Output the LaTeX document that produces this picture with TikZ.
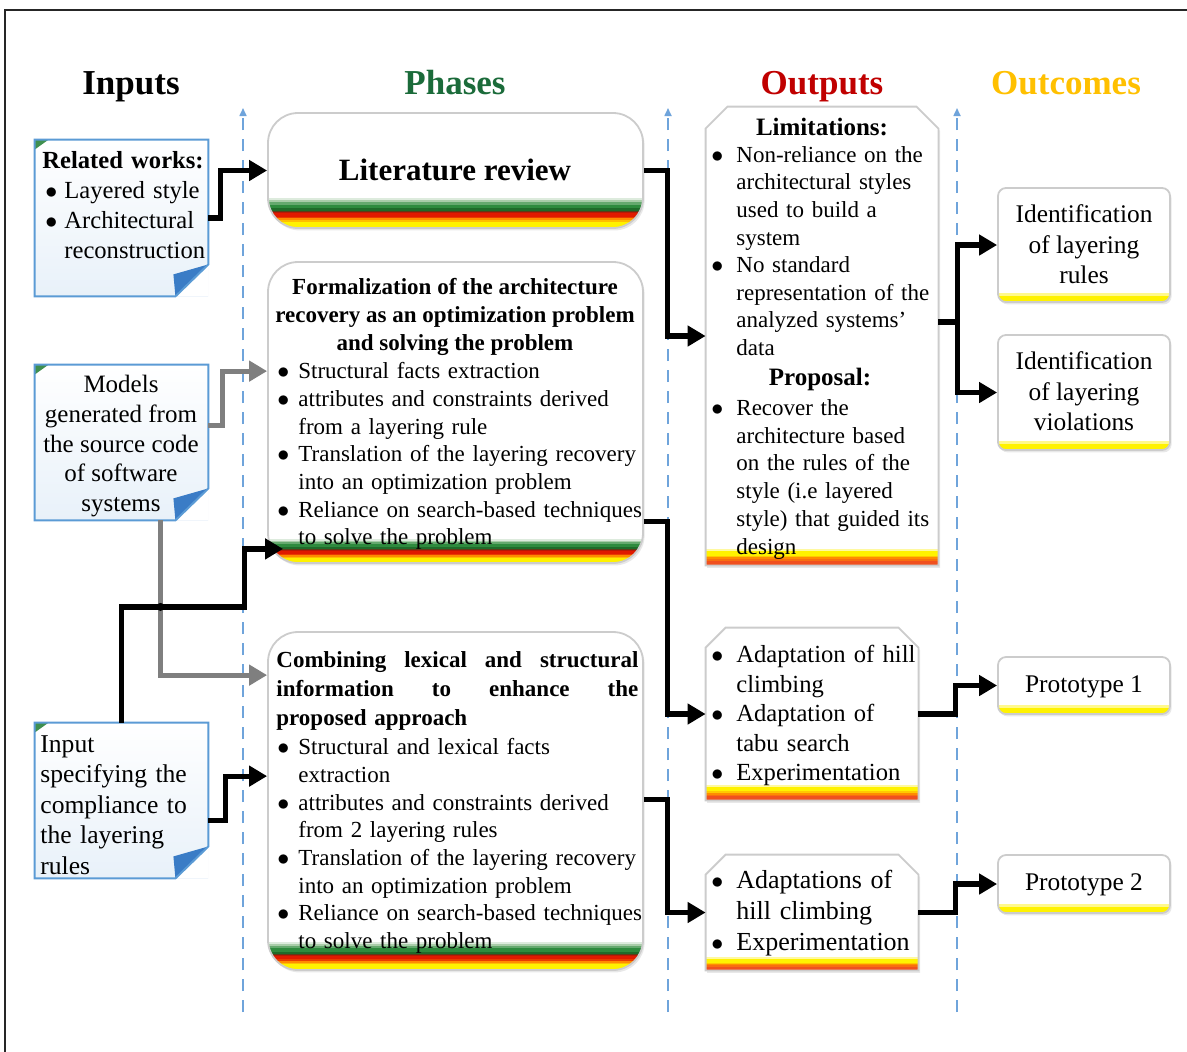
\documentclass[tikz,border=0pt]{standalone}
\usepackage{fontspec}
\setmainfont{Liberation Serif}
\usetikzlibrary{arrows.meta,calc,fit,shadows}
\setlength{\parindent}{0pt}

\definecolor{noteblue}{HTML}{5B9BD5}
\definecolor{foldblue}{HTML}{3A7CC6}
\definecolor{notegreen}{HTML}{3F8F4F}
\definecolor{dashblue}{HTML}{6FA4DB}
\definecolor{phgreen}{HTML}{1B6B3A}
\definecolor{outred}{HTML}{C00000}
\definecolor{outgold}{HTML}{FFC000}
\definecolor{connGray}{HTML}{7F7F7F}
\definecolor{bandgreen}{HTML}{2E8B3E}
\definecolor{banddgreen}{HTML}{1F6B2A}
\definecolor{bandlgreen}{HTML}{A9CDA9}
\definecolor{bandred}{HTML}{E01A00}
\definecolor{banddred}{HTML}{8B1A0A}
\definecolor{bandorange}{HTML}{FF8C00}
\definecolor{bandyellow}{HTML}{FFF200}
\definecolor{bandlyellow}{HTML}{FFF9A0}
\definecolor{bandorred}{HTML}{F0501E}

\newcommand{\bitem}[2][11pt]{\noindent\hangindent=#1\hangafter=1\makebox[#1][l]{\hspace{1.5pt}$\bullet$}#2\par}
\newcommand{\fsz}[2]{\fontsize{#1}{#2}\selectfont}

% strips of colour, fractions measured from the bottom edge
\newcommand{\drawband}[4]{%
  \foreach \a/\b/\c in {#4}{\fill[sharp corners,\c] ($(#1)+(0,-\a*#3)$) rectangle ($(#2)+(0,-\b*#3-0.4)$);}}

\newcommand{\notedeco}[1]{%
  \fill[white] ($(#1.south east)+(0,-32)$) -- (#1.south east) -- ($(#1.south east)+(-33,0)$) -- cycle;
  \fill[foldblue] ($(#1.south east)+(0,-32)$) -- ($(#1.south east)+(-33,0)$) -- ($(#1.south east)+(-35,-22)$) -- cycle;
  \fill[notegreen] (#1.north west) -- ($(#1.north west)+(14,0)$) -- ($(#1.north west)+(0,10)$) -- cycle;
  \draw[noteline] (#1.north west) -- (#1.north east) -- ($(#1.south east)+(0,-32)$) -- ($(#1.south east)+(-33,0)$) -- (#1.south west) -- cycle;}

\newcommand{\outbox}[3]{% node, chamfer, band height
  \fill[white, drop shadow={opacity=0.18, shadow xshift=0.8pt, shadow yshift=-1.2pt}] (#1.south west) -- ($(#1.north west)+(0,#2)$) -- ($(#1.north west)+(#2,0)$) -- ($(#1.north east)+(-#2,0)$) -- ($(#1.north east)+(0,#2)$) -- (#1.south east) -- cycle;
  \drawband{#1.south west}{#1.south east}{#3}{0/0.27/bandorred, 0.27/0.38/bandorred!50!bandorange, 0.38/0.5/bandorange, 0.5/0.6/bandorange!40!bandyellow, 0.6/0.87/bandyellow, 0.87/1/bandlyellow}
  \draw[outline] (#1.south west) -- ($(#1.north west)+(0,#2)$) -- ($(#1.north west)+(#2,0)$) -- ($(#1.north east)+(-#2,0)$) -- ($(#1.north east)+(0,#2)$) -- (#1.south east) -- cycle;}

\tikzset{
  hdr/.style={font=\fsz{17.5}{20}\bfseries, inner sep=0pt, anchor=base},
  notebox/.style={inner sep=0pt, top color=white, bottom color=noteblue!14},
  noteline/.style={draw=noteblue, line width=1pt, line join=miter},
  phasebox/.style={draw=gray!40, line width=0.9pt, fill=white, rounded corners=15pt, inner sep=0pt,
    drop shadow={opacity=0.18, shadow xshift=0.8pt, shadow yshift=-1.2pt}},
  phaseband/.style={path picture={\drawband{path picture bounding box.south west}{path picture bounding box.south east}{#1}{0/0.2/bandyellow, 0.2/0.26/bandyellow!50!bandorange, 0.26/0.33/bandorange, 0.33/0.38/bandorange!30!bandred, 0.38/0.5/bandred, 0.5/0.54/bandred!50!banddred, 0.54/0.58/banddred!60!banddgreen, 0.58/0.66/banddgreen, 0.66/0.78/bandgreen, 0.78/0.86/bandgreen!55!bandlgreen, 0.86/0.93/bandlgreen, 0.93/1/bandlgreen!40!white}}},
  plainbox/.style={inner sep=0pt},
  outline/.style={draw=gray!40, line width=0.9pt},
  ocbox/.style={draw=gray!40, line width=0.9pt, fill=white, rounded corners=4pt, inner sep=0pt,
    drop shadow={opacity=0.18, shadow xshift=0.8pt, shadow yshift=-1.2pt},
    path picture={\drawband{path picture bounding box.south west}{path picture bounding box.south east}{9}{0/0.7/bandyellow, 0.7/1/bandyellow!45!white}}},
  octxt/.style={inner sep=0pt, anchor=north, align=center, font=\fsz{12.7}{15.25}},
  txt/.style={inner sep=0pt, anchor=north west, text width=260pt, align=left},
  conn/.style={draw=black, line width=2.6pt, -{Triangle[length=9pt,width=10pt]}},
  gconn/.style={conn, draw=connGray},
  dashline/.style={draw=dashblue, line width=0.8pt, dash pattern=on 6pt off 4.5pt, -{Triangle[length=4pt,width=3.5pt]}},
}

\begin{document}
\begin{tikzpicture}[x=0.5pt, y=-0.5pt]
\useasboundingbox (0,0) rectangle (1187,1051);
\fill[white] (0,0) rectangle (1187,1051);
% frame
\draw[line width=1.3pt, black!85] (5,1070) -- (5,10) -- (1200,10);

% headers
\node[hdr] (hin) at (131,94) {Inputs};
\node[hdr, text=phgreen] (hph) at (455,94) {Phases};
\node[hdr, text=outred] (hout) at (822,94) {Outputs};
\node[hdr, text=outgold] (hoc) at (1066,94) {Outcomes};

% dashed separators
\draw[dashline] (243,1012) -- (243,108);
\draw[dashline] (668,1012) -- (668,108);
\draw[dashline] (957,1012) -- (957,108);

% input notes
\node[notebox, fit={(35,140) (208,296)}] (rel) {};
\notedeco{rel}
\node[notebox, fit={(35,365) (208,520)}] (mod) {};
\notedeco{mod}
\node[notebox, fit={(35,723) (208,878)}] (inp) {};
\notedeco{inp}

\node[txt, font=\fsz{12.3}{15}] (reltxt) at (42,151) {{\bfseries Related works:}\par\bitem[11pt]{Layered style}\bitem[11pt]{Architectural\newline reconstruction}};
\node[inner sep=0pt, anchor=north, align=center, font=\fsz{12.5}{14.85}] (modtxt) at (121,375) {Models\\generated from\\the source code\\of software\\systems};
\node[txt, font=\fsz{12.8}{15.25}] (inptxt) at (40,735) {Input\newline specifying the\newline compliance to\newline the layering\newline rules};

% phases
\node[phasebox, phaseband=30, fit={(268,113) (643,228)}] (lit) {};
\node[phasebox, phaseband=24, fit={(268,262) (643,563)}] (form) {};
\node[phasebox, phaseband=28, fit={(268,632) (643,970)}] (comb) {};

\node[inner sep=0pt, anchor=north, font=\fsz{15.5}{18}\bfseries] (littxt) at (455,159) {Literature review};
\node[inner sep=0pt, anchor=north, align=center, font=\fsz{11.5}{14}\bfseries] (formtitle) at (455,278) {Formalization of the architecture\\recovery as an optimization problem\\and solving the problem};
\node[txt, font=\fsz{11.5}{13.85}] (formlist) at (274,362) {\bitem[12pt]{Structural facts extraction}\bitem[12pt]{attributes and constraints derived\newline from a layering rule}\bitem[12pt]{Translation of the layering recovery\newline into an optimization problem}\bitem[12pt]{Reliance on search-based techniques\newline to solve the problem}};

\node[txt, font=\fsz{11.5}{14.5}\bfseries] (combtitle) at (276,651) {\makebox[181pt][l]{Combining\hfill lexical\hfill and\hfill structural}\newline\makebox[181pt][l]{information\hfill to\hfill enhance\hfill the}\newline proposed approach};
\node[txt, font=\fsz{11.5}{13.85}] (comblist) at (274,738) {\bitem[12pt]{Structural and lexical facts\newline extraction}\bitem[12pt]{attributes and constraints derived\newline from 2 layering rules}\bitem[12pt]{Translation of the layering recovery\newline into an optimization problem}\bitem[12pt]{Reliance on search-based techniques\newline to solve the problem}};

% outputs
\node[plainbox, fit={(706,107) (938,565)}] (lim) {};
\outbox{lim}{22}{16}
\node[plainbox, fit={(706,628) (918,800)}] (out2) {};
\outbox{out2}{20}{15}
\node[plainbox, fit={(706,855) (918,970)}] (out3) {};
\outbox{out3}{20}{13}

\node[inner sep=0pt, font=\fsz{12.5}{15}\bfseries] (limh) at (822,127) {Limitations:};
\node[txt, font=\fsz{11.5}{13.8}] (liml) at (708,146) {\bitem[14pt]{Non-reliance on the\newline architectural styles\newline used to build a\newline system}\bitem[14pt]{No standard\newline representation of the\newline analyzed systems’\newline data}};
\node[inner sep=0pt, font=\fsz{12.5}{15}\bfseries] (proph) at (820,379) {Proposal:};
\node[txt, font=\fsz{11.5}{13.9}] (propl) at (708,399) {\bitem[14pt]{Recover the\newline architecture based\newline on the rules of the\newline style (i.e layered\newline style) that guided its\newline design}};
\node[txt, font=\fsz{12.3}{14.75}] (out2l) at (708,645) {\bitem[14pt]{Adaptation of hill\newline climbing}\bitem[14pt]{Adaptation of\newline tabu search}\bitem[14pt]{Experimentation}};
\node[txt, font=\fsz{13}{15.5}] (out3l) at (708,870) {\bitem[14pt]{Adaptations of\newline hill climbing}\bitem[14pt]{Experimentation}};

% outcomes
\node[ocbox, fit={(998,188) (1170,302)}] (o1) {};
\node[ocbox, fit={(998,335) (1170,450)}] (o2) {};
\node[ocbox, fit={(998,657) (1170,714)}] (p1) {};
\node[ocbox, fit={(998,855) (1170,913)}] (p2) {};
\node[octxt] (o1t) at (1084,204.5) {Identification\\of layering\\rules};
\node[octxt] (o2t) at (1084,351.5) {Identification\\of layering\\violations};
\node[octxt] (p1t) at (1084,675.5) {Prototype 1};
\node[octxt] (p2t) at (1084,873.5) {Prototype 2};

% connectors
\coordinate (gx) at ($(mod.south)+(39,0)$);
\coordinate (ms) at ($(mod.east)+(0,-17)$);
\coordinate (jf) at ($(form.south west)+(-23,43)$);
\coordinate (cj) at ($(lim.east)+(19,-14)$);

\draw[gconn] (ms) -- ++(14,0) |- ($(form.north west)+(0,110)$);
\draw[gconn] (gx) |- ($(comb.north west)+(0,44)$);

\draw[conn] (rel.east) -- ++(12,0) |- (lit.west);
\draw[conn] (lit.east) -| ($(lim.west)+(-38,0)$) -- (lim.west);
\draw[conn] ($(lim.east)+(0,-14)$) -- (cj) |- (o1.west);
\draw[conn] (cj) |- (o2.west);
\draw[conn] (inp.north) |- (jf) |- ($(form.south west)+(16,-15)$);
\fill (gx |- jf) circle[radius=2pt];
\draw[conn] ($(inp.east)+(0,20)$) -- ++(17,0) |- ($(comb.north west)+(0,145)$);
\draw[conn] ($(form.north east)+(0,260)$) -| ($(out2.west)+(-38,0)$) -- (out2.west);
\draw[conn] ($(comb.north east)+(0,168)$) -| ($(out3.west)+(-38,0)$) -- (out3.west);
\draw[conn] (out2.east) -- ++(37,0) |- (p1.west);
\draw[conn] (out3.east) -- ++(37,0) |- (p2.west);
\end{tikzpicture}
\end{document}
